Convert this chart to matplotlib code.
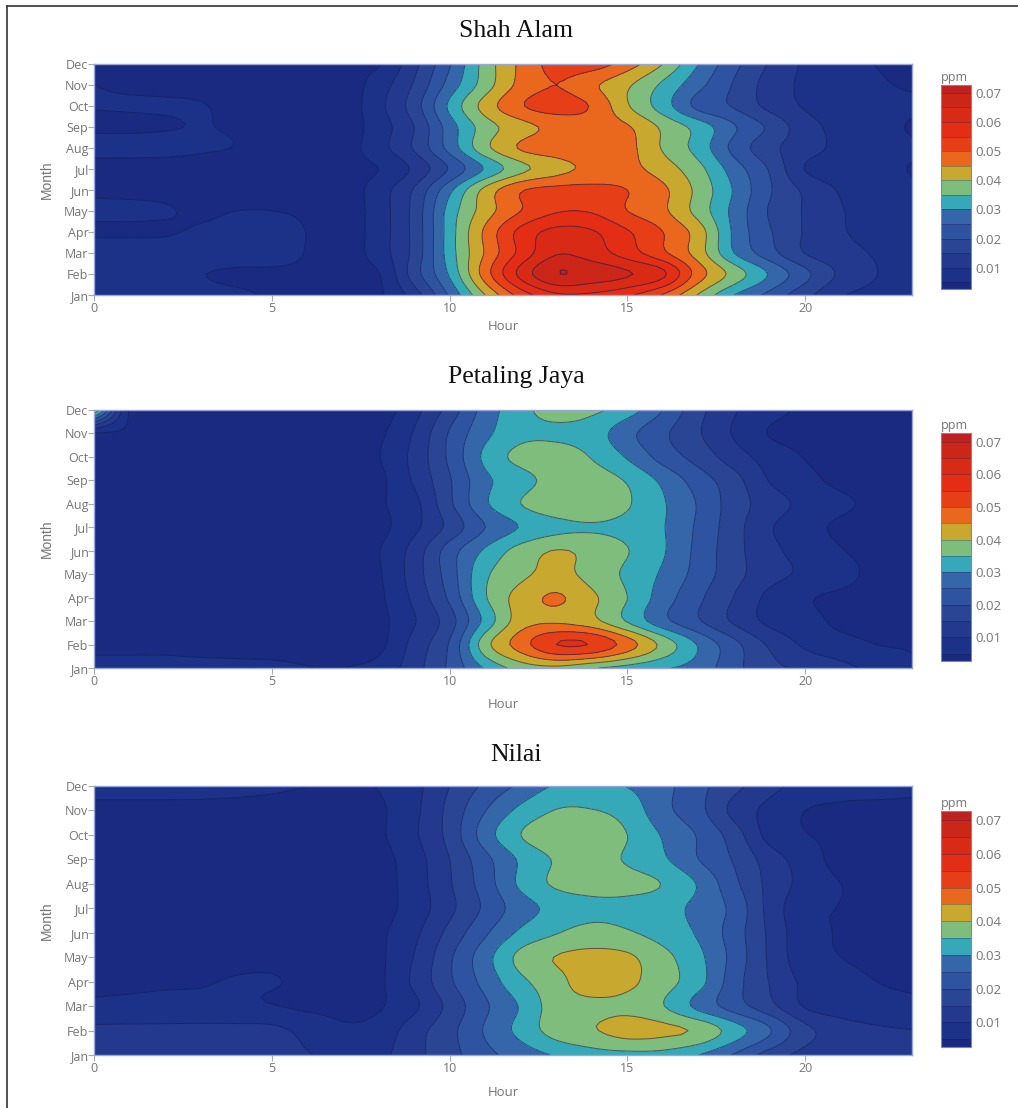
import numpy as np
import matplotlib
matplotlib.use("Agg")
import matplotlib.pyplot as plt
from matplotlib.lines import Line2D

W, H = 1018, 1108
months = ["Jan", "Feb", "Mar", "Apr", "May", "Jun", "Jul", "Aug", "Sep", "Oct", "Nov", "Dec"]
hours = list(range(24))
hour_ticks = [0, 5, 10, 15, 20]
titles = ["Shah Alam", "Petaling Jaya", "Nilai"]
bar_ticks = [0.01, 0.02, 0.03, 0.04, 0.05, 0.06, 0.07]
levels_ppb = [0, 5, 10, 15, 20, 25, 30, 35, 40, 45, 50, 55, 60, 65, 70, 75]
band_colors = ["#1a2a80", "#1b3288", "#22398d", "#294594", "#2e53a0", "#3566a9", "#35a9b8",
               "#7fbd7d", "#c8a82e", "#e9681e", "#e63f18", "#e32d14", "#d92a16", "#cc2618", "#bf2020"]

# ozone in ppb, rows Jan..Dec, columns hour 0..23
shah_alam = [
    [6.5, 6.5, 6.5, 6.0, 5.5, 4.7, 4.5, 4.0, 4.2, 12.4, 25.7, 40, 52, 59, 59, 56, 49.5, 39.5, 30, 23.5, 16.5, 10.5, 8.5, 7],
    [6.2, 6.2, 5.8, 5.1, 4.5, 4.5, 4.5, 4.2, 4.7, 17.5, 30.7, 47.5, 61.5, 69.8, 68, 65.5, 61, 47.5, 38, 29.5, 21.3, 14, 10.1, 6.2],
    [6.2, 6.2, 6, 6.5, 6.5, 6.2, 4.8, 2.5, 7.5, 16.5, 32.5, 45.5, 56.5, 64.5, 62.5, 57.5, 51, 42.5, 30, 22, 14.8, 11.5, 9.5, 6.5],
    [4.7, 4.7, 4.8, 5.3, 5.8, 6.2, 4.9, 2.5, 7.5, 16.5, 32.5, 46, 56.5, 61.5, 60.5, 55.5, 50, 42.5, 29, 20.5, 14.5, 10.5, 8.5, 6.5],
    [5.4, 5.4, 5.15, 4.7, 5, 5, 4.5, 2.5, 7.5, 16.5, 32, 42.5, 50, 54.5, 54.5, 50, 46, 38, 28.5, 19.5, 14.5, 10.3, 8, 6],
    [4.6, 4.5, 4.5, 4.4, 4.4, 4.4, 4.3, 2.5, 7.5, 15.5, 28.7, 41.5, 49.5, 51.5, 51.5, 50, 46, 38.5, 29.5, 20.5, 14, 9.5, 7.5, 5.5],
    [3.5, 3.5, 3.6, 3.6, 3.6, 3.6, 3.6, 3.6, 5, 11, 20.5, 30.5, 38.5, 43, 46.3, 46.5, 42.5, 36.5, 27.5, 19.5, 9.8, 7.5, 6.2, 4.8],
    [6.2, 6.2, 6, 5.4, 4.9, 4, 4, 3, 8, 15.5, 26.8, 38.5, 45.5, 47.5, 48, 46.5, 39.5, 33, 23.5, 16.5, 12, 8.7, 6.5, 5.5],
    [4.5, 4.5, 4.8, 5.1, 4.7, 4, 4, 2.5, 7.5, 15, 27.5, 37.5, 43, 46.5, 47.5, 45.5, 39, 33, 25.5, 19, 12, 8.5, 6.5, 4.6],
    [5.1, 5.2, 5.2, 5.1, 4.5, 4, 4, 2.5, 8.5, 17.5, 31, 42, 49.5, 52, 49.5, 40.5, 32.5, 23.5, 19.5, 13.5, 9.5, 7.5, 6, 5.6],
    [5, 4.7, 4.6, 4.5, 4.3, 4, 4, 2.5, 7.5, 15.5, 27, 37.5, 46.5, 50, 46, 40.8, 34, 26.5, 19.5, 13, 9, 7.5, 5.5, 4.6],
    [4.2, 4.2, 4.2, 4.2, 4.2, 4.2, 4.2, 4.2, 4.5, 13.5, 24.5, 37, 46, 52, 52.5, 47.5, 40, 30, 21.5, 14.5, 9.2, 6.5, 4.9, 4],
]
petaling_jaya = [
    [5.6, 5.6, 5.6, 5.5, 5.4, 5.3, 5.05, 4.95, 6.5, 13, 21, 30.5, 37, 38.5, 35.5, 33, 30.5, 28, 21.5, 16.5, 13.8, 11.5, 8.5, 5.5],
    [4.6, 4.6, 4.6, 4.5, 4.5, 4.5, 4.5, 4.4, 3.8, 11.8, 20.5, 38, 47.5, 55, 54.6, 47.5, 38.5, 29.5, 21.5, 14.2, 9.2, 6.8, 5, 4.7],
    [4.4, 4.4, 4.4, 4.4, 4.4, 4.4, 4.4, 4.4, 3.8, 9.6, 17.8, 31.5, 42.5, 44.2, 41.5, 34.5, 26.5, 20.5, 14.2, 8.8, 6.8, 4, 4, 4],
    [4.4, 4.4, 4.4, 4.4, 4.4, 4.4, 4.4, 4.4, 4.2, 11.2, 21, 34.5, 42, 45.6, 41, 35, 27.5, 21, 14.8, 8.7, 5.5, 4.3, 4, 4],
    [4.4, 4.4, 4.4, 4.4, 4.4, 4.4, 4.4, 4.4, 4.5, 12.5, 22.5, 34, 38.8, 41.5, 38.2, 34, 29.2, 23, 16.8, 11.8, 9, 6.2, 4.2, 4],
    [4.4, 4.4, 4.4, 4.4, 4.4, 4.4, 4.4, 4.4, 4.8, 12, 22.5, 30.8, 37, 40.2, 38.5, 35.2, 30.5, 23.5, 16.8, 11.3, 8.2, 5.2, 4.3, 4],
    [4.4, 4.4, 4.4, 4.4, 4.4, 4.4, 4.4, 4.4, 3.8, 8.8, 16.5, 25, 30.3, 33.5, 34.5, 33.5, 30.3, 24, 17, 10.5, 6.9, 4.2, 4, 4],
    [4.4, 4.4, 4.4, 4.4, 4.4, 4.4, 4.4, 4.4, 4.5, 8.5, 19, 29.2, 35, 38.5, 39, 35.5, 30.5, 24.5, 17.5, 12.5, 8.5, 5.8, 4.2, 4],
    [4.4, 4.4, 4.4, 4.4, 4.4, 4.4, 4.4, 4.4, 4, 10.7, 19.5, 28.8, 33, 37, 37.5, 34.5, 28.8, 22.5, 16.8, 9.7, 6.3, 4.1, 4, 4],
    [4.4, 4.4, 4.4, 4.4, 4.4, 4.4, 4.4, 4.4, 4.8, 11.5, 21, 31.1, 36.5, 37.5, 34.7, 29.5, 23, 18, 12.4, 7.8, 4.8, 4, 4, 4],
    [4.4, 4.4, 4.4, 4.4, 4.4, 4.4, 4.4, 4.4, 4.2, 10.4, 20.5, 28.7, 33.5, 34, 32.5, 26.5, 21, 15.5, 9.5, 4.7, 3.8, 3.8, 3.8, 3.8],
    [41, 4.4, 4.4, 4.4, 4.4, 4.4, 4.4, 3.5, 2.8, 8.2, 17, 27, 33.4, 37, 36, 32.5, 25, 16.5, 10.5, 6.7, 4.2, 4, 4, 4],
]
nilai = [
    [11.8, 11.8, 11.8, 11.7, 11.6, 11.5, 10.3, 8.5, 8.8, 13.5, 18.2, 23.5, 27.2, 30.5, 32.8, 33.5, 33.2, 30, 24.5, 17.8, 13.5, 12.5, 12, 11.5],
    [11.1, 11.2, 11.2, 11.3, 11.3, 11.2, 8.5, 5.7, 6.8, 12.8, 18.5, 25.5, 31.5, 37.2, 39.5, 42, 41.2, 39, 32.5, 25.5, 16.5, 12.5, 10.8, 10.1],
    [5.8, 6, 6.2, 6.2, 6, 5.2, 4.2, 4.2, 4.5, 9, 16.5, 24.2, 30.5, 37.5, 38.5, 38.5, 35.2, 28.5, 22.5, 16.5, 9.5, 7.5, 6.5, 6],
    [4.5, 4.6, 4.7, 4.8, 5.2, 5.2, 4.4, 4.2, 4.2, 11, 19.2, 26.7, 33.8, 38.2, 43, 41.2, 37, 31.8, 22.2, 14.8, 8.8, 6.5, 5, 4.5],
    [4.4, 4.4, 4.4, 4.4, 4.5, 4.5, 4.4, 4.3, 4.2, 10.2, 19.2, 28, 36.5, 40.2, 41.5, 40.8, 36.5, 31.2, 23.2, 14.2, 6.8, 5, 4.3, 4.2],
    [4.4, 4.4, 4.4, 4.4, 4.4, 4.4, 4.4, 4.3, 4.2, 8.8, 16.5, 24.2, 31, 34.7, 36.8, 35.5, 33, 29.3, 22.5, 14, 6.5, 4.8, 4.2, 4.2],
    [4.4, 4.4, 4.4, 4.4, 4.4, 4.4, 4.4, 4.3, 3.5, 7.2, 13.8, 21, 27.7, 31.5, 33.5, 33.5, 32, 28.5, 23.5, 13.3, 6.2, 4.9, 4.2, 4.2],
    [4.4, 4.4, 4.4, 4.4, 4.4, 4.4, 4.4, 4.3, 3.3, 7.5, 14.5, 22.5, 31, 35.8, 37, 36.5, 34.8, 29.5, 21.2, 13.5, 8.3, 5, 4.2, 4.2],
    [4.4, 4.4, 4.4, 4.4, 4.4, 4.4, 4.4, 4.3, 3.5, 7.8, 15, 23.5, 30.8, 35.5, 36.5, 34.5, 30.8, 25, 19.5, 12.5, 7.5, 3.5, 3.8, 3.8],
    [4.4, 4.4, 4.4, 4.4, 4.4, 4.4, 4.4, 4.3, 4.3, 9.2, 16.7, 27.5, 35, 38, 37.5, 35, 29.5, 24.5, 17.5, 8.2, 5.2, 4.4, 4.2, 4.2],
    [4.3, 4.3, 4.3, 4.3, 4.3, 4.3, 4.3, 4.3, 4.3, 8.8, 16.5, 24.8, 31.3, 35.2, 35.2, 33, 26.5, 21.5, 13.5, 8.5, 5, 4.4, 4.4, 4.5],
    [6.2, 6.2, 6.2, 6.1, 5.8, 5.4, 5, 4.8, 5.2, 8.5, 15, 21, 26, 30.5, 30.8, 29.8, 26.5, 21.5, 16.5, 11.7, 8.2, 6.5, 6, 5.5],
]
panels = [shah_alam, petaling_jaya, nilai]

# pixel layout: axes x0, x1, y_top, y_bottom; colourbar y_top, y_bottom; title y; hour label y
layout = [
    (94, 912, 64, 295, 85, 289, 31, 327),
    (94, 912, 410, 668, 433, 661, 377, 704),
    (94, 912, 786, 1055, 811, 1047, 755, 1092),
]
plt.rcParams["font.family"] = ["Open Sans", "DejaVu Sans"]
GREY = "#757575"
EDGE = "#9aa6d8"

fig = plt.figure(figsize=(W / 100, H / 100), dpi=100, facecolor="white")


def rect(x0, x1, top, bottom):
    return [x0 / W, 1 - bottom / H, (x1 - x0) / W, (bottom - top) / H]


def smooth_axis(a, n, axis):
    """Catmull-Rom resampling along one axis; passes through the read values."""
    a = np.moveaxis(a, axis, 0)
    m = a.shape[0]
    p = np.concatenate([[2 * a[0] - a[1]], a, [2 * a[-1] - a[-2]]])
    t = np.linspace(0, m - 1, (m - 1) * n + 1)
    i = np.minimum(t.astype(int), m - 2)
    f = (t - i).reshape((-1,) + (1,) * (a.ndim - 1))
    p0, p1, p2, p3 = p[i], p[i + 1], p[i + 2], p[i + 3]
    out = 0.5 * (2 * p1 + (p2 - p0) * f + (2 * p0 - 5 * p1 + 4 * p2 - p3) * f ** 2
                 + (3 * p1 - p0 - 3 * p2 + p3) * f ** 3)
    return np.moveaxis(out, 0, axis)


levels = np.array(levels_ppb) / 1000.0
xs = np.array(hours)
ys = np.arange(1, 13)
N = 6
xf = np.linspace(xs[0], xs[-1], (len(xs) - 1) * N + 1)
yf = np.linspace(ys[0], ys[-1], (len(ys) - 1) * N + 1)
for data, title, (x0, x1, top, bottom, ctop, cbot, ty, hy) in zip(panels, titles, layout):
    z = np.array(data) / 1000.0
    zf = np.clip(smooth_axis(smooth_axis(z, N, 1), N, 0), 0.0005, 0.0745)
    ax = fig.add_axes(rect(x0, x1, top, bottom))
    cf = ax.contourf(xf, yf, zf, levels=levels, colors=band_colors)
    ax.contour(xf, yf, zf, levels=levels[1:-1], colors="#101a50", linewidths=0.7, alpha=0.6)
    ax.set_xlim(0, 23)
    ax.set_ylim(1, 12)
    ax.set_xticks(hour_ticks)
    ax.set_yticks(ys)
    ax.set_yticklabels(months)
    ax.tick_params(axis="both", length=4, width=0.8, color="#aaaaaa", labelcolor=GREY,
                   labelsize=9, pad=0)
    ax.tick_params(axis="x", pad=1)
    for s in ax.spines.values():
        s.set_color(EDGE)
        s.set_linewidth(1.0)
    fig.text(503 / W, 1 - hy / H, "Hour", color=GREY, fontsize=9.5, ha="center", va="center")
    fig.text(47 / W, 1 - ((top + bottom) / 2) / H, "Month", family="Liberation Sans", color=GREY,
             fontsize=10, rotation=90, ha="center", va="center")
    fig.text(516 / W, 1 - ty / H, title, family="Liberation Serif", color="#111111", fontsize=18.5,
             ha="center", va="center")

    cax = fig.add_axes(rect(941, 971, ctop, cbot))
    cb = fig.colorbar(cf, cax=cax, spacing="proportional", drawedges=False)
    for lev in levels[1:-1]:
        cax.axhline(lev, color="#101a50", linewidth=0.6, alpha=0.35)
    cax.set_ylim(0.0027, 0.0727)
    cb.set_ticks(bar_ticks)
    cb.set_ticklabels([f"{t:.2f}" for t in bar_ticks])
    cax.tick_params(length=0, labelcolor=GREY, labelsize=9.5, pad=3)
    cb.outline.set_edgecolor("#888888")
    cb.outline.set_linewidth(0.8)
    fig.text(941 / W, 1 - (ctop - 8) / H, "ppm", color=GREY, fontsize=9, ha="left", va="center")

fig.add_artist(Line2D([7 / W, 7 / W], [0, 1 - 6 / H], color="#333333", linewidth=1.2))
fig.add_artist(Line2D([7 / W, 1], [1 - 6 / H, 1 - 6 / H], color="#333333", linewidth=1.2))

fig.savefig("out.png", dpi=100, facecolor="white")
